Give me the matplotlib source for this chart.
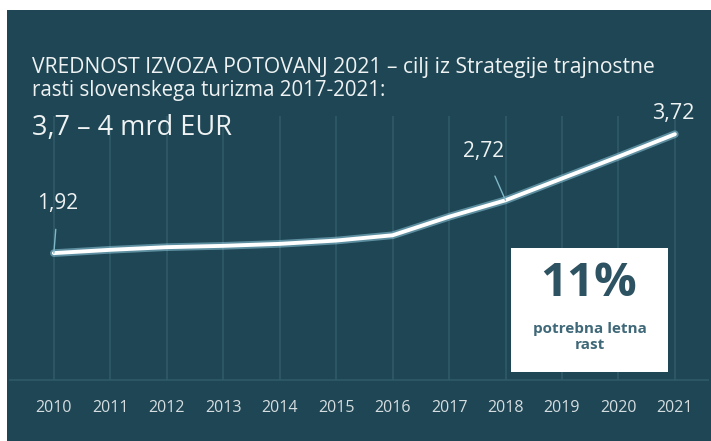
import matplotlib
matplotlib.use("Agg")
import matplotlib.pyplot as plt
from matplotlib.patches import Rectangle

years = [2010, 2011, 2012, 2013, 2014, 2015, 2016, 2017, 2018, 2019, 2020, 2021]
values = [1.92, 1.97, 2.01, 2.03, 2.06, 2.11, 2.19, 2.47, 2.72, 3.05, 3.38, 3.72]
labelled = {2010: "1,92", 2018: "2,72", 2021: "3,72"}

bg = "#1f4654"
grid_col = "#325c69"
txt = "#eef2f3"

plt.rcParams["font.family"] = ["Open Sans", "DejaVu Sans"]

fig = plt.figure(figsize=(7.11, 4.41), dpi=100)
fig.patch.set_facecolor("white")
# dark panel (small white margin top/left like the scan)
ax = fig.add_axes([7 / 711, 0, 704 / 711, 431 / 441])
ax.set_facecolor(bg)
ax.set_xlim(2009.17, 2021.64)
ax.set_ylim(-0.924, 5.6)
for s in ax.spines.values():
    s.set_visible(False)
ax.set_xticks([])
ax.set_yticks([])

# vertical grid lines + baseline
ax.vlines(years, 0, 4.0, color=grid_col, lw=1.1, zorder=1)
ax.hlines(0, 2009.2, 2021.6, color=grid_col, lw=1.1, zorder=1)

# the line with a soft blue glow
ax.plot(years, values, color="#8fcbe0", lw=5.5, alpha=0.55, solid_capstyle="round", zorder=3)
ax.plot(years, values, color="white", lw=2.8, solid_capstyle="round", zorder=4)

# value labels with leader lines
ax.annotate(labelled[2010], xy=(2010, values[0]), xytext=(2010.07, values[0] + 0.75),
            color=txt, fontsize=15, ha="center", va="center",
            arrowprops=dict(arrowstyle="-", color="#7fb8c8", lw=1, shrinkA=9, shrinkB=0), zorder=5)
ax.annotate(labelled[2018], xy=(2018, values[8]), xytext=(2017.62, values[8] + 0.74),
            color=txt, fontsize=15, ha="center", va="center",
            arrowprops=dict(arrowstyle="-", color="#7fb8c8", lw=1, shrinkA=9, shrinkB=0), zorder=5)
ax.text(2020.97, values[11] + 0.32, labelled[2021], color=txt, fontsize=15.5, ha="center", va="center", zorder=5)

# year labels
for y in years:
    ax.text(y, -0.42, str(y), color="#d5dde0", fontsize=11.5, ha="center", va="center")

# titles
fig.text(32 / 711, 1 - 68 / 441, "VREDNOST IZVOZA POTOVANJ 2021 – cilj iz Strategije trajnostne",
         color=txt, fontsize=15.2, va="center", ha="left")
fig.text(32 / 711, 1 - 91 / 441, "rasti slovenskega turizma 2017-2021:",
         color=txt, fontsize=14.8, va="center", ha="left")
fig.text(32 / 711, 1 - 128 / 441, "3,7 – 4 mrd EUR",
         color=txt, fontsize=19.5, va="center", ha="left")

# white info box
box = Rectangle((511 / 711, 1 - 372 / 441), 157 / 711, 124 / 441, transform=fig.transFigure,
                facecolor="white", edgecolor="none", zorder=6)
fig.patches.append(box)
fig.text(589 / 711, 1 - 283 / 441, "11%", color="#2d5261", fontsize=34, fontweight="bold",
         ha="center", va="center", zorder=7)
fig.text(590 / 711, 1 - 337 / 441, "potrebna letna\nrast", color="#3f6878", fontsize=11,
         fontweight="bold", ha="center", va="center", linespacing=1.2, zorder=7)

fig.savefig("out.png", dpi=100)
